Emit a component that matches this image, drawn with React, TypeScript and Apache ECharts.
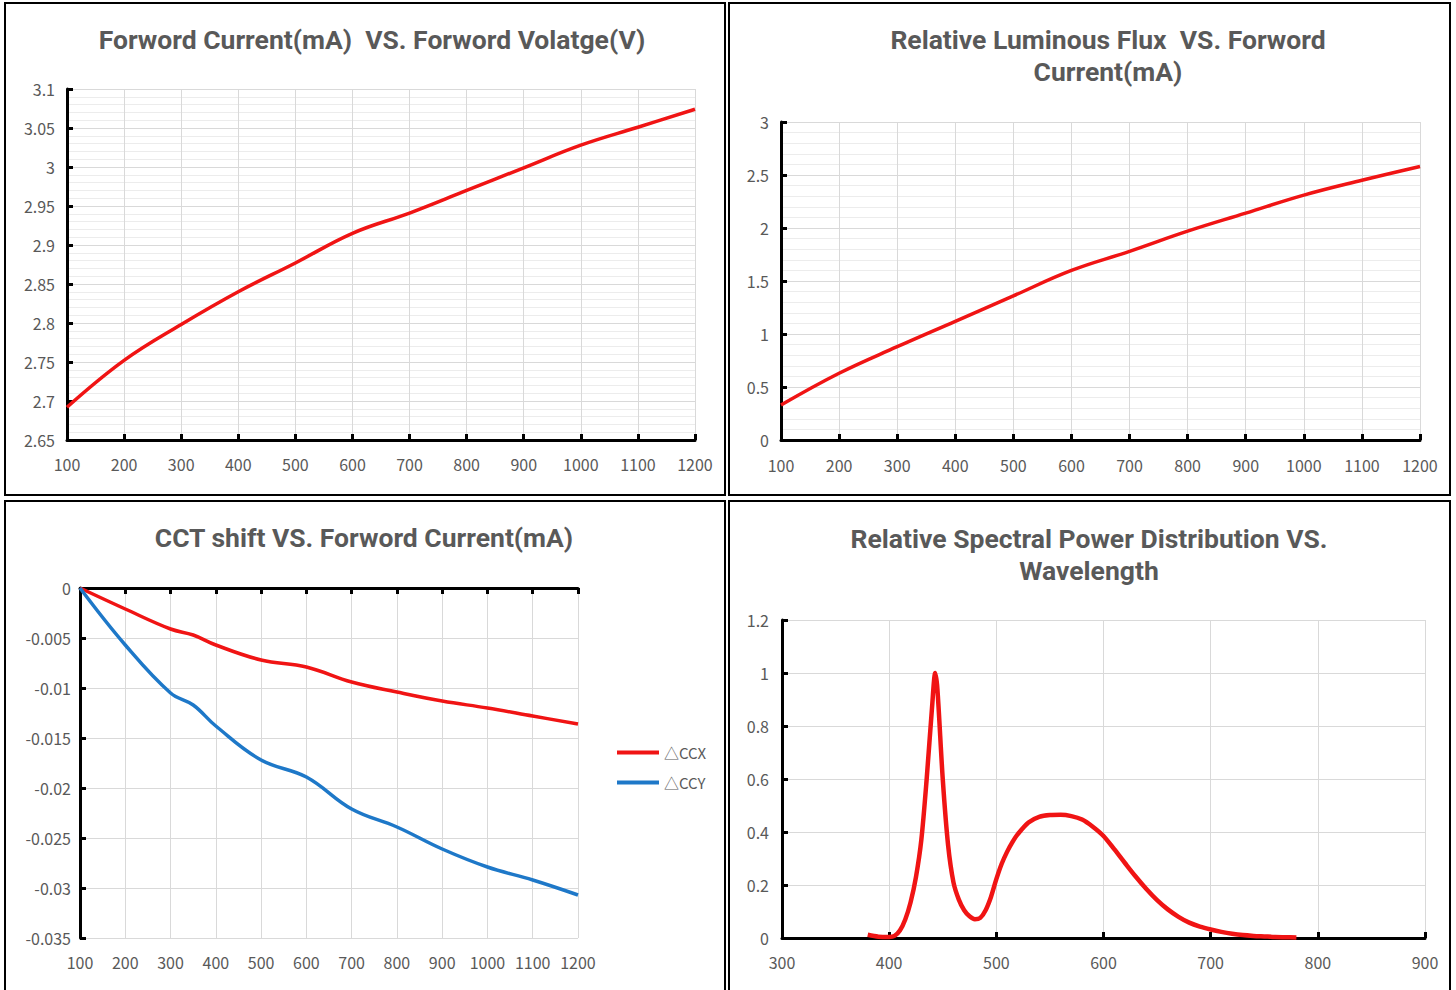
import React, { useEffect, useRef } from "react";
import * as echarts from "echarts";

// ---------- data ----------
const currents = [100, 200, 300, 400, 500, 600, 700, 800, 900, 1000, 1100, 1200];
const forwardVoltage = [2.692, 2.752, 2.798, 2.84, 2.877, 2.915, 2.941, 2.97, 2.999, 3.028, 3.051, 3.074];
const relativeFlux = [0.33, 0.63, 0.88, 1.12, 1.36, 1.6, 1.78, 1.97, 2.14, 2.31, 2.45, 2.58];

const cctCurrents = [100, 200, 300, 350, 400, 500, 600, 700, 800, 900, 1000, 1100, 1200];
const deltaCCX = [0, -0.0021, -0.0041, -0.0047, -0.0057, -0.0072, -0.0079, -0.0094, -0.0104, -0.0113, -0.012, -0.0128, -0.0136];
const deltaCCY = [0, -0.0057, -0.0105, -0.0117, -0.0138, -0.0172, -0.0189, -0.0221, -0.0239, -0.0261, -0.0279, -0.0292, -0.0307];

const wavelengths = [
  380, 390, 400, 405, 410, 415, 420, 425, 430, 435, 440, 443, 445, 450, 455, 460, 465, 470, 475, 480, 485, 490, 495,
  500, 505, 510, 515, 520, 530, 540, 550, 560, 570, 580, 590, 600, 610, 620, 630, 640, 650, 660, 670, 680, 690, 700,
  710, 720, 730, 740, 750, 760, 770, 780,
];
const spectralPower = [
  0.012, 0.005, 0.004, 0.008, 0.028, 0.07, 0.135, 0.23, 0.37, 0.6, 0.87, 1.0, 0.94, 0.6, 0.35, 0.21, 0.145, 0.105,
  0.082, 0.071, 0.076, 0.105, 0.155, 0.222, 0.28, 0.325, 0.362, 0.392, 0.436, 0.457, 0.464, 0.465, 0.46, 0.447, 0.42,
  0.385, 0.335, 0.283, 0.232, 0.185, 0.143, 0.108, 0.08, 0.058, 0.043, 0.032, 0.023, 0.016, 0.011, 0.008, 0.006,
  0.004, 0.003, 0.002,
];

const titleTL = ["Forword Current(mA)  VS. Forword Volatge(V)"];
const titleTR = ["Relative Luminous Flux  VS. Forword", "Current(mA)"];
const titleBL = ["CCT shift VS. Forword Current(mA)"];
const titleBR = ["Relative Spectral Power Distribution VS.", "Wavelength"];
const legendNames = ["△CCX", "△CCY"];

// ---------- styling ----------
const FONT = "'Noto Sans CJK SC', 'Noto Sans', sans-serif";
const TITLE_FONT = "Roboto, 'Noto Sans', sans-serif";
const LABEL = "#595959";
const RED = "#f01414";
const BLUE = "#1e78c8";
const GRID_MAJOR = "#d9d9d9";
const GRID_MINOR = "#ececec";

const zip = (xs: number[], ys: number[]) => xs.map((x, i) => [x, ys[i]]);
const fmt = (v: number) => String(parseFloat(v.toFixed(4)));

const axisLine = { show: true, onZero: false, lineStyle: { color: "#000", width: 3 } };
const axisTick = { show: true, inside: true, length: 6, lineStyle: { color: "#000", width: 3 } };
const label = (margin: number) => ({ color: LABEL, fontSize: 16, fontFamily: FONT, margin, formatter: fmt });

function xAxisBase(gridIndex: number, min: number, max: number, margin: number) {
  return {
    type: "value",
    gridIndex,
    min,
    max,
    interval: 100,
    axisLine,
    axisTick,
    axisLabel: label(margin),
    splitLine: { show: true, lineStyle: { color: GRID_MAJOR, width: 1 } },
  };
}

function yAxisBase(gridIndex: number, min: number, max: number, interval: number, margin: number, minor: boolean) {
  return {
    type: "value",
    gridIndex,
    min,
    max,
    interval,
    axisLine,
    axisTick,
    axisLabel: label(margin),
    splitLine: { show: true, lineStyle: { color: GRID_MAJOR, width: 1 } },
    minorTick: { show: false, splitNumber: 5 },
    minorSplitLine: { show: minor, lineStyle: { color: GRID_MINOR, width: 1 } },
  };
}

// centre y of first line given; lines 32px apart
function titleTexts(lines: string[], x: number, yCenter: number) {
  return lines.map((text, i) => ({
    type: "text",
    x,
    y: yCenter + i * 32,
    style: {
      text,
      fill: LABEL,
      font: `bold 26.5px ${TITLE_FONT}`,
      lineHeight: 30,
      textAlign: "center",
      textVerticalAlign: "middle",
    },
  }));
}

function border(x: number, y: number, w: number, h: number) {
  return {
    type: "rect",
    shape: { x, y, width: w, height: h },
    style: { fill: "none", stroke: "#000", lineWidth: 2 },
  };
}

function lineSeries(name: string | undefined, xi: number, yi: number, data: number[][], color: string, width: number, smooth: number) {
  return {
    name,
    type: "line",
    xAxisIndex: xi,
    yAxisIndex: yi,
    data,
    smooth,
    showSymbol: false,
    lineStyle: { color, width },
    itemStyle: { color },
  };
}

export default function App() {
  const ref = useRef<HTMLDivElement>(null);

  useEffect(() => {
    document.body.style.margin = "0";
    if (!ref.current) return;
    const chart = echarts.init(ref.current, undefined, { renderer: "svg" });

    const option = {
      animation: false,
      backgroundColor: "#fff",
      grid: [
        { left: 67, top: 89, width: 628, height: 351 },
        { left: 781, top: 122, width: 639, height: 318 },
        { left: 80, top: 588, width: 498, height: 350 },
        { left: 782, top: 620, width: 643, height: 318 },
      ],
      xAxis: [
        xAxisBase(0, 100, 1200, 16),
        xAxisBase(1, 100, 1200, 17),
        {
          ...xAxisBase(2, 100, 1200, 16),
          axisLine: { show: false },
          axisTick: { show: false },
        },
        {
          ...xAxisBase(2, 100, 1200, 16),
          position: "top",
          axisLabel: { show: false },
          splitLine: { show: false },
        },
        xAxisBase(3, 300, 900, 16),
      ],
      yAxis: [
        yAxisBase(0, 2.65, 3.1, 0.05, 12, true),
        yAxisBase(1, 0, 3, 0.5, 12, true),
        yAxisBase(2, -0.035, 0, 0.005, 9, false),
        yAxisBase(3, 0, 1.2, 0.2, 13, false),
      ],
      legend: {
        data: legendNames,
        orient: "vertical",
        left: 612,
        top: 740,
        icon: "rect",
        itemWidth: 42,
        itemHeight: 4,
        itemGap: 15,
        textStyle: { color: LABEL, fontSize: 15, fontFamily: FONT },
      },
      series: [
        lineSeries(undefined, 0, 0, zip(currents, forwardVoltage), RED, 3.5, 0.4),
        lineSeries(undefined, 1, 1, zip(currents, relativeFlux), RED, 3.5, 0.4),
        lineSeries(legendNames[0], 2, 2, zip(cctCurrents, deltaCCX), RED, 3.5, 0.4),
        lineSeries(legendNames[1], 2, 2, zip(cctCurrents, deltaCCY), BLUE, 3.5, 0.4),
        lineSeries(undefined, 4, 3, zip(wavelengths, spectralPower), RED, 4.5, 0.3),
      ],
      graphic: [
        border(5, 3, 720, 492),
        border(729, 3, 721, 492),
        border(5, 501, 720, 495),
        border(729, 501, 721, 495),
        ...titleTexts(titleTL, 372, 39),
        ...titleTexts(titleTR, 1108, 39),
        ...titleTexts(titleBL, 364, 537),
        ...titleTexts(titleBR, 1089, 538),
      ],
    };

    chart.setOption(option as any);
    return () => chart.dispose();
  }, []);

  return <div ref={ref} style={{ width: 1456, height: 990 }} />;
}
